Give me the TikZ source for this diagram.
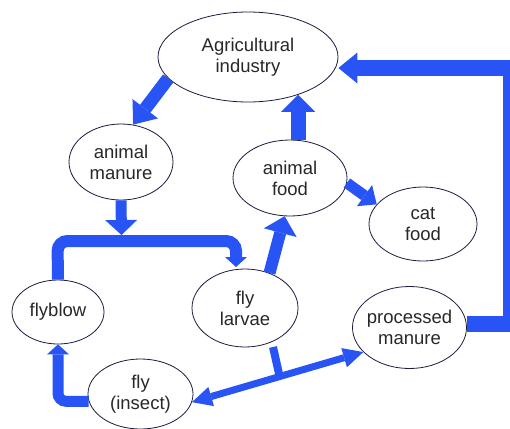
\documentclass[tikz,border=0pt]{standalone}
\usepackage{fontspec}
\setmainfont{Liberation Sans}
\usetikzlibrary{shapes.geometric,arrows.meta}
\definecolor{arrowblue}{RGB}{40,84,245}
\definecolor{edgecol}{RGB}{28,28,64}
\definecolor{txt}{RGB}{40,40,40}
\begin{document}
\begin{tikzpicture}[x=1pt,y=-1pt,
  bub/.style={ellipse, draw=edgecol, line width=0.8pt, fill=white, inner sep=-6pt,
    align=center, font=\fontsize{18.5}{21}\selectfont, text=txt},
  arrw/.style n args={3}{draw=arrowblue, line width=#1,
    -{Triangle[width=#2,length=#3,line width=0pt]}},
  darrw/.style={draw=arrowblue, line width=7pt,
    {Triangle[width=20pt,length=20pt,line width=0pt]}-{Triangle[width=20pt,length=20pt,line width=0pt]}}
]
\useasboundingbox (0,0) rectangle (510,428);

% nodes
\node[bub, minimum width=180pt, minimum height=90pt] (ag) at (248,57) {Agricultural\\industry};
\node[bub, minimum width=104pt, minimum height=76pt] (mn) at (121,162) {animal\\manure};
\node[bub, minimum width=114pt, minimum height=76pt] (af) at (290,178) {animal\\food};
\node[bub, minimum width=108pt, minimum height=74pt] (cf) at (423,224) {cat\\food};
\node[bub, minimum width=92pt, minimum height=64pt] (fb) at (58,312) {flyblow};
\node[bub, minimum width=106pt, minimum height=78pt] (fl) at (245,308) {fly\\larvae};
\node[bub, minimum width=114pt, minimum height=82pt] (pm) at (409.5,327.5) {processed\\manure};
\node[bub, minimum width=105pt, minimum height=70pt] (fi) at (140.5,394) {fly\\(insect)};

% helper coordinates
\coordinate (rc) at (511,68);
\coordinate (jn) at (121.5,235);
\coordinate (bl) at (57.5,241);
\coordinate (br) at (236,241);
\coordinate (bt) at (236,267);
\coordinate (st) at (273,347);
\coordinate (sj) at (279.5,376);

% connectors
\draw[arrw={13pt}{32pt}{20pt}] (ag.195) -- (mn.72);
\draw[arrw={15pt}{34pt}{17pt}] (af.78) -- (af.78 |- ag.323);
\draw[arrw={11pt}{26pt}{15pt}] (af.-5) -- (cf.157);
\draw[arrw={16pt}{31pt}{19pt}] (pm.4) -| (rc) -- (rc -| ag.east);
\draw[arrw={11pt}{32pt}{15pt}] (mn.south) -- (jn);
\draw[arrw={12pt}{22pt}{10pt}, rounded corners=10pt] (fb.north) -- (bl) -- (br) -- (bt);
\draw[arrw={12pt}{34pt}{17pt}] (fl.55) -- (af.262);
\draw[arrw={11pt}{22pt}{10pt}, rounded corners=8pt] (fi.188) -| (fb.south);
\draw[darrw] (fi.-9) -- (pm.208);
\draw[draw=arrowblue, line width=8pt] (st) -- (sj);
\end{tikzpicture}
\end{document}
